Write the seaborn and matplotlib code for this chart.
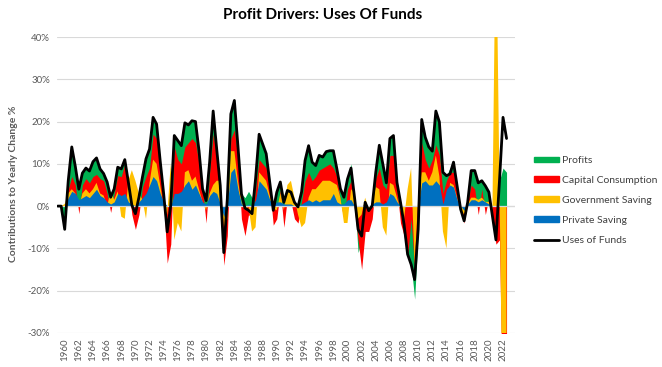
import numpy as np
import pandas as pd
import seaborn as sns
import matplotlib.pyplot as plt
from matplotlib.patches import Patch
from matplotlib.lines import Line2D

# half-year steps, 1959.0 .. 2022.5
periods = np.arange(1959.0, 2022.51, 0.5)

# contributions to yearly change, % (two values per year)
private_saving = [
    0, 0, 0, 2, 3.5, 3, 1.5, 2, 2.5, 2, 3, 4, 2.5, 2, 1, 0.5, 1, 3, 2.5, 3,      # 1959-1968
    1, 0.5, 0, 1, 2, 3, 5, 7, 6, 3, 1, 0, 0, 3, 3, 3.5, 5, 6, 4, 5,              # 1969-1978
    3, 1, 0.5, 2.5, 3.5, 3, 0.5, -2.5, 0.5, 8, 9, 4, 0.5, 0, 0.5, 0, 1.5, 6, 5, 4,  # 1979-1988
    1.5, 0.5, 1, 1, 0.5, 0.5, 0.5, 0, 0, 0.5, 1, 1.5, 1, 1.5, 1, 1.5, 1.5, 1.5, 3, 1,  # 1989-1998
    0.5, 0.5, 1.5, 1.5, 0, 0, 0, 0.5, 0, 0.5, 1, 1, 0.5, 1, 3, 2.5, 1, 0, 0, 0,   # 1999-2008
    0, 0, 0, 5.5, 6, 5, 5, 6, 5, 0.5, 4, 5, 4.5, 1.5, 0, -1, 0.5, 1.5, 1.5, 1,   # 2009-2018
    1.5, 1, 0.5, 0, 0, 0, 0, 0,                                                  # 2019-2022
]
government_saving = [
    0, 0, 0.5, 1, 0.5, 0, -2, 1, 1.5, 1, 1, 1.5, 0.5, 0.5, -1, 3, 0.5, 0.5, -5, -6,
    5, 8, 6, 2, -0.5, -6, 0.5, 4, 4, 2, -1, -2, 10, -11, -7, -9.5, 3, 2.5, 2, 2,
    1, 0, -1.5, 0.5, 1.5, 3, 5.5, -2.5, -3.5, 5, 4, 2, 0.5, -1, -0.5, -6, -6.5, 2, 2, 2,
    1, -1, -2, 2, -1.5, 4.5, 5.5, 2, -2, -5.5, -5, 0.5, 3, 2.5, 4, 4.5, 4.5, 4.5, 2.5, 4,
    1.5, -4.5, -5.5, 2.5, 3, -3, -2, 1.5, -1, 0, 3.5, 3, -5.5, -8, 2.5, 2.5, 1, -1, -3, 4,
    9, -14, 2, 2.5, 2, 1, 3, 6, 2, -6.5, -14, 0.5, 0.5, 0.5, -1, -1, 0, 0.5, 0.5, 0.5,
    0.5, 0, 0.5, -1, 70, 5, -60, -50,
]
capital_consumption = [
    0, 0, -0.5, 1, 3, 2, -1.3, 2, 2.5, 2.5, 3, 2, 3.5, 3.5, 3, -5, 1.5, 3.7, 9.5, 13,
    -1, -10.5, -11.5, -5, 3, 10, 3.5, 6, 6, 3, 1, -11.5, -19, 22, 15, 16, 6, 6.5, 10, 8,
    6, 3, -3, 5, 12, 5.5, -3, -9, -4, 3, 5, 5, -4, -6, -2, 3, 9, 3, 3, 3,
    2, -4, -2, 1, -4, -3, -5, -5, -2, 6, 10, 6, 2, 3, 3.5, 3, 3.5, 4, 3.5, 2,
    -1, 1, 8, 2, -4, -5, -13, -8, -5, -3.5, 2, 5, 10, 11, 6.5, 7, 2, -3, -4, -16,
    -12, -1, -5, 7, 3, 3, 3, 2.5, 5, 9, 16, 2.5, 3, 2, 0, -2, 0.5, 3, 2, -3.5,
    2, -3, 1, -2, -79, -13, 5, 5,
]
profits = [
    0, 0, -5.5, 2, 7, 4.4, 5.8, 2.8, 2.5, 2.8, 3.5, 3.9, 2.3, 1.7, 2.7, 3.6, 1.1, 2, 1.8, 1,
    0.7, 2.2, 3.7, 4.1, 2.4, 4.2, 4.5, 4, 3.4, 2.8, 1.9, 7.4, 9.2, 2.7, 4.5, 4.3, 5.7, 4.2, 4.2, 5,
    3.1, 0.1, 5.3, 2.4, 5.5, 2, 1.9, 3, 8.7, 5.8, 7, 3.3, 5.9, 9, 5.5, 5, 2.5, 6, 4.7, 3.4,
    1.2, 3.5, 6.3, 1.7, 5.9, 1.7, 2.3, 3.9, 3.8, 2.3, 4.8, 6.3, 4.4, 2.6, 3.5, 2.6, 3.4, 3.1, 4.1, 1.8,
    3.1, 5.1, 2.4, 4, 3, -3, 7, 6.9, 4.9, 3.1, 1.5, 5.4, 5, 1.5, 4, 4.7, 1.6, 4.9, 2.7, 0.6,
    -10.8, -7, -3, 5.5, 5.3, 5, 2, 8, 7.9, 5, 1.2, 1, 2.4, 0.8, 0.3, 0.5, -0.1, 3.4, 4.4, 7.5,
    2, 6.8, 1.3, 0.7, 1, 14, 64, 53,
]
uses_of_funds = [
    0, 0, -5.5, 6, 14, 9.4, 4, 7.8, 9, 8.3, 10.5, 11.4, 8.8, 7.7, 5.7, 2.1, 4.1, 9.2, 8.8, 11,
    5.7, 0.2, -1.8, 2.1, 6.9, 11.2, 13.5, 21, 19.4, 10.8, 2.9, -6.1, 0.2, 16.7, 15.5, 14.3, 19.7, 19.2, 20.2, 20,
    13.1, 4.1, 1.3, 10.4, 22.5, 13.5, 4.9, -11, 1.7, 21.8, 25, 14.3, 2.9, -0.5, -1, -1.8, 6.5, 17, 14.7, 12.4,
    5.7, -1, 3.3, 5.7, 0.9, 3.7, 3.3, 0.9, -0.2, 3.3, 10.8, 14.3, 10.4, 9.6, 12, 11.6, 12.9, 13.1, 13.1, 8.8,
    4.1, 2.1, 6.4, 9, 2, -5.5, -7.1, 0.9, -1.1, 0.1, 8, 14.4, 10, 5.5, 16, 16.7, 5.6, 0.9, -4.3, -11.4,
    -13.8, -17.4, -5.5, 20.5, 16.3, 14, 13, 22.5, 19.9, 8, 7.2, 7.6, 10.4, 4.8, -0.7, -3.5, 0.9, 8.4, 8.4, 5.5,
    6, 4.8, 3.3, -2.3, -8, 6, 21, 16,
]

series_names = ['Private Saving', 'Government Saving', 'Capital Consumption', 'Profits']
colors = {'Private Saving': '#0070C0', 'Government Saving': '#FFC000',
          'Capital Consumption': '#FF0000', 'Profits': '#00B050'}
year_ticks = list(range(1960, 2023, 2))

df = pd.DataFrame({'period': periods, 'Private Saving': private_saving,
                   'Government Saving': government_saving,
                   'Capital Consumption': capital_consumption,
                   'Profits': profits, 'Uses of Funds': uses_of_funds})

sns.set_theme(style='white')
plt.rcParams['font.family'] = ['Lato', 'DejaVu Sans']

fig = plt.figure(figsize=(6.62, 3.67), dpi=100)
ax = fig.add_axes([0.086, 0.093, 0.692, 0.806])

# stacked levels, each filled down to zero, top of stack at the back
levels = df[series_names].cumsum(axis=1)
for name in reversed(series_names):
    ax.fill_between(df['period'], 0, levels[name], color=colors[name], lw=0, zorder=2)

ax.axhline(0, color='#D9D9D9', lw=0.9, zorder=3)
sns.lineplot(data=df, x='period', y='Uses of Funds', color='black', lw=2.0, ax=ax, zorder=4)

ax.set_xlim(1958.9, 2023.7)
ax.set_ylim(-30, 40)
ax.set_yticks(range(-30, 41, 10))
ax.set_yticklabels([f'{v}%' for v in range(-30, 41, 10)])
ax.set_xticks(year_ticks)
ax.set_xticklabels([str(y) for y in year_ticks], rotation=90)
ax.yaxis.grid(True, color='#D9D9D9', lw=0.8, zorder=0)
ax.xaxis.grid(False)
ax.set_axisbelow(True)
for s in ax.spines.values():
    s.set_visible(False)
ax.tick_params(axis='both', length=0, labelsize=7, colors='#595959')
ax.tick_params(axis='y', pad=5)
ax.tick_params(axis='x', pad=4)
ax.set_xlabel('')
ax.set_ylabel('')

fig.text(0.487, 0.958, 'Profit Drivers: Uses Of Funds', ha='center', va='center',
         fontsize=11, fontweight='bold', color='black')
fig.text(0.021, 0.50, 'Contributions to Yearly Change %', rotation=90, ha='center',
         va='center', fontsize=7.5, fontweight='bold', color='#595959')

handles = [Patch(color=colors['Profits'], label='Profits'),
           Patch(color=colors['Capital Consumption'], label='Capital Consumption'),
           Patch(color=colors['Government Saving'], label='Government Saving'),
           Patch(color=colors['Private Saving'], label='Private Saving'),
           Line2D([0], [0], color='black', lw=2, label='Uses of Funds')]
fig.legend(handles=handles, loc='upper left', bbox_to_anchor=(0.793, 0.6),
           frameon=False, fontsize=7.5, handlelength=2.4, handleheight=0.5,
           labelspacing=1.05, handletextpad=0.25, labelcolor='#404040')

fig.savefig('out.png', dpi=100)
